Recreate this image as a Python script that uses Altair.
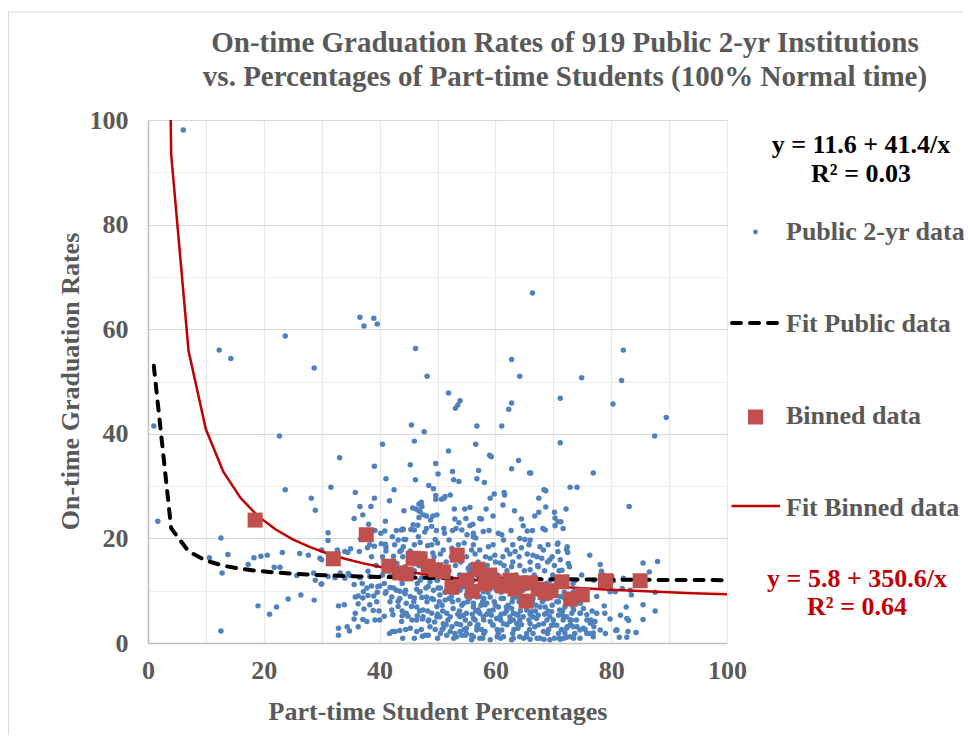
import altair as alt
import pandas as pd

# ---------------- data ----------------
title_lines = ["On-time Graduation Rates of 919 Public 2-yr Institutions",
               "vs. Percentages of Part-time Students (100% Normal time)"]
x_title = "Part-time Student Percentages"
y_title = "On-time Graduation Rates"
legend_labels = ["Public 2-yr data", "Fit Public data", "Binned data", "Fit Binned data"]
eq_public = ["y = 11.6 + 41.4/x", "R² = 0.03"]
eq_binned = ["y = 5.8 + 350.6/x", "R² = 0.64"]

# fit coefficients (as printed on the chart)
pub_a, pub_b = 11.6, 41.4
bin_a, bin_b = 5.8, 350.6
fit_x = [1, 4, 7, 10, 13, 16, 19, 22, 25, 28, 31, 34, 37, 40, 43, 46, 49, 52, 55,
         58, 61, 64, 67, 70, 73, 76, 79, 82, 85, 88, 91, 94, 97, 100]

# binned data (red squares)
bin_x = [18.5, 32.0, 37.7, 41.6, 44.6, 47.0, 48.4, 49.7, 51.0, 52.5, 53.4, 55.0, 56.0,
         57.0, 58.2, 59.0, 59.8, 61.3, 62.5, 63.4, 64.4, 65.3, 66.1, 67.4, 68.6, 69.6,
         71.5, 73.0, 75.0, 79.0, 85.0, 45.8, 43.5]
bin_y = [23.5, 16.1, 20.7, 14.7, 13.2, 16.1, 14.7, 14.0, 13.6, 10.7, 16.8, 12.0, 9.9,
         14.1, 11.3, 13.0, 11.7, 10.9, 12.0, 10.3, 11.5, 8.0, 11.5, 10.3, 9.6, 10.0,
         11.7, 8.4, 9.2, 11.9, 11.9, 16.2, 13.4]

# institutions (blue dots), read region by region
sparse_pts = [
    (6.1, 98.1), (66.4, 66.9), (36.6, 62.3), (37.3, 60.6), (39.0, 62.1), (39.6, 61.0),
    (23.7, 58.7), (12.3, 56.0), (14.3, 54.4), (28.7, 52.6), (46.2, 56.3), (48.2, 51.0),
    (62.8, 54.2), (64.2, 51.0), (82.1, 56.0), (81.8, 50.2), (74.9, 50.7), (51.9, 47.8),
    (53.9, 46.3), (53.5, 45.5), (53.1, 44.9), (62.8, 45.9), (62.3, 44.7), (71.2, 46.8),
    (80.3, 45.7), (89.5, 43.1), (87.5, 39.6), (1.0, 41.5), (22.7, 39.6), (45.5, 41.7),
    (47.7, 40.4), (46.0, 38.6), (40.5, 38.0), (56.8, 41.5), (61.1, 41.5), (56.6, 38.0),
    (71.2, 38.3), (51.9, 36.7), (33.1, 35.4), (39.1, 33.8), (45.3, 34.1), (49.7, 34.3),
    (50.1, 32.3), (59.0, 35.9), (59.3, 35.6), (64.0, 34.9), (62.8, 33.3), (52.6, 32.8),
    (57.1, 33.0), (65.9, 32.5), (66.1, 32.5), (76.9, 32.5), (46.2, 31.2), (41.1, 31.4),
    (56.8, 31.4), (58.1, 30.7), (52.8, 31.2), (53.7, 30.9), (42.5, 29.3), (31.6, 29.8),
    (23.7, 29.3), (72.9, 29.8), (74.1, 29.8), (68.4, 29.3), (68.7, 29.1), (49.3, 29.5),
    (48.5, 30.1), (49.7, 28.2), (28.2, 27.7), (28.9, 25.4), (35.8, 28.8), (39.1, 27.7),
    (41.7, 27.2), (83.1, 26.1), (1.7, 23.3), (12.6, 20.1), (13.8, 16.9), (10.6, 16.3),
    (12.8, 13.4), (19.0, 7.1), (12.6, 2.3), (21.0, 5.5), (22.2, 6.9), (24.2, 8.4),
    (26.4, 9.2), (28.7, 8.2), (17.3, 15.0), (18.3, 16.3), (19.5, 16.6), (20.6, 16.8),
    (23.2, 17.3), (26.2, 17.1), (27.7, 16.8), (21.8, 14.5), (22.8, 14.5), (25.7, 12.9),
    (28.6, 13.4), (28.9, 12.0), (29.9, 11.3),
]
right_pts = [
    (88.0, 15.6), (85.5, 15.3), (87.6, 9.7), (86.6, 13.6), (85.5, 4.5), (87.6, 6.1),
    (84.3, 2.0), (82.7, 1.1), (81.4, 1.1), (83.0, 4.3), (80.8, 2.4), (82.6, 6.9),
    (80.0, 10.1), (78.8, 7.1), (78.9, 5.7), (79.8, 4.6), (80.1, 12.8), (80.4, 11.9),
    (78.1, 15.0), (78.3, 13.7), (76.3, 16.8), (72.3, 17.9), (72.5, 17.3), (70.7, 18.9),
    (75.2, 6.6), (75.8, 5.4), (77.2, 4.1), (78.1, 2.5), (76.9, 1.9), (74.6, 2.5),
    (73.5, 3.1), (72.0, 1.9), (72.3, 1.1), (71.2, 0.7), (78.6, 13.0), (77.5, 5.7),
    (80.9, 2.5), (83.5, 9.2), (85.5, 7.3), (82.9, 2.2), (72.4, 18.4), (72.6, 15.2),
    (72.8, 14.6), (71.2, 15.9), (71.5, 13.9), (74.9, 13.0), (73.8, 12.0), (73.5, 9.8),
    (77.0, 12.0), (77.5, 8.9), (75.2, 2.8), (72.9, 1.2), (71.8, 0.9), (81.0, 2.5),
    (82.7, 4.7), (81.6, 5.3), (80.7, 9.8), (79.8, 9.8), (81.9, 10.4), (83.3, 10.1),
    (82.1, 12.4), (71.2, 8.9), (72.4, 8.2), (73.5, 6.3), (71.8, 5.0), (72.9, 4.4),
    (74.7, 5.7), (76.4, 3.8), (74.1, 3.1), (72.4, 3.1), (74.7, 7.6), (75.5, 8.5),
    (77.0, 3.1), (79.0, 1.8), (75.8, 1.8), (73.5, 0.9),
]
mid_pts = [
    (36.6, 26.1), (38.5, 26.1), (35.6, 23.8), (37.1, 24.5), (38.1, 22.7), (41.0, 23.3),
    (44.2, 25.3), (46.3, 25.6), (46.8, 25.3), (48.1, 24.3), (49.2, 24.3), (31.1, 21.1),
    (31.1, 19.6), (30.0, 17.8), (29.7, 16.2), (32.7, 17.8), (34.0, 17.5), (35.0, 18.0),
    (36.5, 17.5), (37.9, 18.2), (39.1, 18.5), (40.3, 19.0), (40.9, 21.4), (42.2, 20.3),
    (44.1, 21.7), (44.5, 19.8), (45.4, 21.7), (46.6, 22.5), (47.8, 21.2), (49.0, 22.3),
    (41.0, 18.9), (41.1, 17.6), (42.4, 16.6), (44.1, 18.4), (45.3, 17.6), (47.0, 19.2),
    (48.3, 18.6), (49.6, 19.8), (43.0, 15.2), (44.4, 14.6), (45.8, 15.4), (47.3, 14.7),
    (49.3, 14.4), (45.7, 25.8), (46.8, 26.6), (47.6, 24.5), (48.8, 23.5), (49.9, 24.5),
    (67.5, 27.7), (66.8, 24.3), (67.5, 25.0), (61.5, 28.8), (61.6, 28.3), (59.8, 28.5),
    (59.1, 27.7), (61.3, 26.4), (63.3, 25.3), (49.7, 27.5), (50.7, 27.5), (51.1, 27.7),
    (52.2, 28.3), (47.2, 26.9), (47.3, 26.1), (46.8, 24.0), (44.0, 21.8), (44.2, 19.8),
    (43.8, 17.8), (57.6, 23.7), (58.4, 25.6), (59.6, 24.3), (54.7, 25.6), (55.6, 25.9),
    (52.9, 25.6), (51.1, 21.9), (51.2, 21.0), (53.0, 23.7), (53.7, 23.0), (56.1, 22.7),
    (56.6, 20.1), (64.5, 23.7), (64.8, 22.4), (65.5, 21.4), (68.2, 21.9), (68.6, 21.6),
    (70.2, 25.0), (70.3, 23.9), (70.8, 23.2), (71.3, 23.2), (71.7, 21.9), (72.2, 25.6),
    (47.0, 25.1), (51.3, 28.0), (54.9, 23.8), (57.3, 23.8), (43.8, 21.6), (45.8, 22.6),
    (46.0, 21.6), (48.1, 21.9), (53.2, 21.9), (54.2, 21.6), (55.1, 20.7), (56.2, 20.3),
    (36.7, 19.9), (40.2, 21.0), (43.2, 19.7), (46.7, 20.3), (41.1, 18.3), (50.0, 19.1),
    (52.0, 19.7), (54.6, 19.1), (34.5, 17.3), (43.5, 17.5), (45.3, 15.9), (49.2, 17.2),
    (51.0, 17.8), (52.5, 18.1), (68.7, 26.0), (70.3, 22.4), (55.6, 22.4), (56.2, 21.0),
    (57.9, 21.3), (60.5, 21.0), (61.1, 20.7), (61.4, 19.7), (64.2, 20.0), (65.1, 19.8),
    (66.0, 19.7), (67.7, 18.4), (68.3, 17.8), (70.8, 19.1), (55.9, 17.8), (57.3, 17.8),
    (58.8, 18.4), (59.9, 16.8), (62.0, 17.8), (63.4, 17.5), (64.5, 18.2), (66.5, 16.8),
    (68.0, 16.2), (69.4, 15.9), (70.8, 17.5), (67.4, 14.6), (66.0, 14.0), (62.8, 14.6),
    (60.8, 15.3), (59.1, 16.2),
]
core_pts = [
    (32.9, 7.1), (33.9, 7.3), (32.9, 2.8), (32.9, 1.5), (34.4, 3.1), (34.8, 2.3),
    (36.3, 3.1), (35.6, 4.6), (37.1, 4.5), (37.8, 4.1), (35.6, 11.2), (37.0, 11.4),
    (38.6, 10.9), (39.7, 10.8), (35.8, 8.8), (37.1, 8.6), (38.0, 9.1), (39.0, 9.0),
    (36.3, 7.5), (37.3, 6.5), (38.9, 6.2), (40.0, 10.9), (41.8, 10.6), (42.9, 10.1),
    (43.5, 9.9), (44.5, 10.1), (41.0, 9.5), (42.1, 8.8), (43.2, 8.0), (44.6, 7.6),
    (46.0, 8.6), (40.8, 5.1), (42.3, 5.4), (43.9, 5.2), (44.9, 5.1), (46.5, 5.2),
    (47.4, 4.6), (48.4, 4.2), (49.5, 4.0), (41.7, 1.8), (42.2, 2.2), (43.5, 2.4),
    (47.4, 1.3), (47.9, 1.5), (32.3, 12.5), (34.0, 12.4), (34.9, 12.9), (36.6, 12.5),
    (45.8, 13.1), (47.3, 12.5), (48.7, 11.7), (49.9, 12.0), (68.4, 0.7), (65.4, 1.2),
    (63.1, 0.9), (60.3, 1.2), (54.2, 1.5), (52.2, 2.2), (51.0, 2.8), (30.0, 15.9),
    (31.1, 12.7), (33.2, 13.4), (34.6, 13.3), (38.0, 13.7), (38.3, 12.7), (41.8, 12.7),
    (43.0, 12.6), (49.7, 12.7), (51.6, 12.7), (55.3, 14.3), (30.0, 11.3), (37.8, 10.5),
    (37.2, 9.8), (36.3, 9.0), (41.1, 9.8), (42.4, 10.5), (43.5, 8.5), (44.4, 9.4),
    (45.3, 8.9), (46.4, 10.3), (47.3, 8.7), (48.4, 10.8), (49.3, 8.3), (50.1, 10.5),
    (51.3, 8.2), (52.4, 8.9), (53.6, 8.2), (54.5, 7.6), (56.2, 7.6), (57.3, 8.9),
    (35.8, 5.7), (38.3, 7.3), (39.2, 4.4), (41.8, 7.9), (42.1, 6.3), (43.2, 7.0),
    (43.8, 4.1), (44.6, 5.7), (45.5, 7.0), (46.4, 4.4), (47.5, 6.3), (49.0, 5.7),
    (49.9, 7.0), (50.4, 5.0), (51.6, 5.7), (52.7, 6.6), (53.9, 5.0), (55.0, 5.7),
    (56.2, 4.7), (57.1, 6.0), (42.7, 2.2), (45.3, 2.8), (46.4, 2.2), (48.4, 1.5),
    (51.6, 1.5), (52.5, 3.1), (53.9, 2.2), (55.0, 2.8), (55.9, 1.5), (46.4, 6.9),
    (47.5, 5.0), (48.7, 3.1), (49.9, 5.0), (51.0, 3.7), (52.2, 5.0), (53.3, 3.7),
    (54.5, 5.3), (55.6, 3.7), (56.8, 2.5), (47.0, 9.8), (48.1, 8.8), (49.3, 10.1),
    (50.4, 9.2), (51.6, 10.1), (52.7, 9.8), (53.9, 10.1), (55.0, 9.2), (56.2, 9.8),
    (53.3, 11.4), (54.5, 10.8), (55.6, 11.7), (54.8, 1.5), (53.3, 1.2), (56.2, 1.2),
    (56.2, 6.9), (57.3, 5.7), (58.5, 7.6), (59.6, 6.3), (60.8, 5.0), (61.9, 6.9),
    (63.1, 5.7), (64.2, 4.4), (65.4, 6.3), (66.5, 5.0), (67.7, 6.9), (68.8, 5.7),
    (70.0, 4.4), (71.1, 6.3), (72.3, 5.0), (73.4, 6.9), (74.6, 5.7), (75.8, 4.4),
    (56.8, 3.1), (58.2, 2.2), (59.6, 3.4), (61.1, 2.5), (62.5, 4.1), (63.9, 2.8),
    (65.4, 1.8), (66.8, 3.1), (68.3, 2.2), (69.7, 3.4), (70.9, 1.8), (72.3, 2.8),
    (73.7, 1.8), (76.3, 1.8), (55.9, 0.6), (57.3, 0.9), (59.1, 0.6), (61.4, 1.2),
    (62.8, 0.6), (64.2, 1.2), (66.0, 0.7), (67.7, 0.9), (69.4, 0.6), (71.1, 0.9),
    (74.6, 0.9), (76.9, 1.2), (56.8, 8.8), (57.9, 9.8), (59.1, 8.8), (60.2, 10.1),
    (61.4, 8.5), (62.5, 9.8), (63.7, 8.8), (64.8, 10.1), (66.0, 8.2), (67.1, 9.5),
    (68.3, 8.2), (69.4, 9.2), (70.6, 7.9), (71.7, 8.8), (72.9, 7.6), (74.0, 8.5),
    (56.5, 4.4), (57.9, 5.0), (59.1, 4.1), (60.2, 4.7), (61.4, 3.7), (62.5, 5.0),
    (63.7, 3.7), (64.8, 5.0), (66.0, 3.7), (67.1, 4.7), (68.3, 3.7), (69.4, 5.0),
    (70.6, 3.4), (71.7, 4.4), (72.9, 3.4), (74.0, 4.4), (57.0, 6.3), (58.2, 7.3),
    (59.3, 5.3), (60.5, 6.9), (61.6, 5.7), (62.8, 6.6), (63.9, 5.3), (65.1, 7.3),
    (66.2, 6.0), (67.4, 5.3), (68.6, 6.9), (69.7, 6.0), (70.9, 5.3), (72.0, 6.9),
    (73.2, 5.7), (56.2, 12.0), (57.6, 11.4), (58.8, 12.4), (59.9, 11.4), (61.1, 12.0),
    (70.6, 11.4), (72.0, 10.8), (73.4, 11.4),
    (50.5, 1.8), (53.0, 1.8), (55.0, 1.8), (58.0, 1.8), (60.5, 1.8), (63.0, 1.8),
    (66.5, 1.8), (69.0, 1.8), (51.5, 3.5), (54.0, 3.5), (57.0, 3.5), (59.5, 3.5),
    (62.0, 3.5), (64.5, 3.5), (67.5, 3.5), (70.0, 3.5), (73.0, 3.5), (50.0, 5.5),
    (53.5, 5.5), (56.0, 5.5), (58.5, 5.5), (61.0, 5.5), (63.5, 5.5), (66.0, 5.5),
    (68.5, 5.5), (71.5, 5.5), (50.8, 7.2), (54.2, 7.2), (57.5, 7.2), (60.0, 7.2),
    (62.2, 7.2), (65.0, 7.2), (67.0, 7.2), (69.8, 7.2), (49.0, 8.5), (52.0, 8.5),
    (55.5, 8.5), (58.0, 8.5), (61.0, 8.5), (63.0, 8.5), (66.5, 8.5), (69.0, 8.5),
    (72.0, 8.5), (48.0, 10.5), (50.5, 10.5), (54.0, 10.5), (57.0, 10.5), (60.0, 10.5),
    (62.5, 10.5), (65.5, 10.5), (68.0, 10.5), (70.5, 10.5), (47.0, 12.0), (50.0, 12.0),
    (53.0, 12.0), (57.5, 12.0), (61.5, 12.0), (64.0, 12.0), (67.0, 12.0), (69.5, 12.0),
    (46.0, 13.8), (49.0, 13.8), (52.0, 13.8), (55.5, 13.8), (59.0, 13.8), (62.0, 13.8),
    (65.0, 13.8), (68.5, 13.8), (71.0, 13.8), (45.0, 15.5), (48.5, 15.5), (51.5, 15.5),
    (54.0, 15.5), (57.0, 15.5), (60.0, 15.5), (63.0, 15.5), (66.0, 15.5), (69.0, 15.5),
    (47.5, 17.0), (50.5, 17.0), (53.5, 17.0), (56.5, 17.0), (62.5, 17.0), (65.5, 17.0),
]
dense_pts = [
    (44.0, 0.9), (46.0, 0.9), (50.0, 0.9), (52.8, 0.9), (57.8, 0.9), (60.9, 0.9),
    (64.9, 0.9), (67.2, 0.9), (70.2, 0.9),
    (44.5, 2.6), (47.2, 2.6), (49.6, 2.6), (50.8, 2.6), (54.6, 2.6), (57.6, 2.6),
    (60.3, 2.6), (63.2, 2.6), (65.9, 2.6), (69.2, 2.6), (71.4, 2.6), (75.5, 2.6),
    (40.0, 4.4), (45.6, 4.4), (48.5, 4.4), (51.8, 4.4), (54.8, 4.4), (58.0, 4.4),
    (60.9, 4.4), (63.1, 4.4), (65.8, 4.4), (68.9, 4.4), (73.1, 4.4), (76.5, 4.4),
    (39.9, 6.1), (43.9, 6.1), (46.9, 6.1), (48.3, 6.1), (50.9, 6.1), (53.8, 6.1),
    (56.6, 6.1), (58.9, 6.1), (61.9, 6.1), (64.3, 6.1), (66.9, 6.1), (69.1, 6.1),
    (71.6, 6.1), (76.7, 6.1),
    (39.5, 7.9), (45.9, 7.9), (48.2, 7.9), (50.3, 7.9), (52.6, 7.9), (55.2, 7.9),
    (57.8, 7.9), (59.8, 7.9), (62.9, 7.9), (64.1, 7.9), (66.4, 7.9), (68.1, 7.9),
    (70.9, 7.9), (73.9, 7.9),
    (39.6, 9.7), (44.3, 9.7), (46.9, 9.7), (51.3, 9.7), (53.2, 9.7), (55.9, 9.7),
    (58.7, 9.7), (61.0, 9.7), (63.9, 9.7), (66.8, 9.7), (68.9, 9.7), (71.9, 9.7),
    (40.8, 11.4), (43.9, 11.4), (46.5, 11.4), (52.3, 11.4), (54.8, 11.4), (58.4, 11.4),
    (60.6, 11.4), (63.2, 11.4), (65.9, 11.4), (68.9, 11.4), (71.7, 11.4),
    (40.5, 13.0), (42.5, 13.0), (50.6, 13.0), (53.8, 13.0), (56.7, 13.0), (58.1, 13.0),
    (60.4, 13.0), (63.6, 13.0), (66.7, 13.0), (69.9, 13.0),
    (39.4, 14.8), (41.7, 14.8), (46.8, 14.8), (50.4, 14.8), (53.1, 14.8), (55.7, 14.8),
    (58.6, 14.8), (61.5, 14.8), (64.2, 14.8), (67.3, 14.8), (70.2, 14.8),
    (38.6, 16.5), (40.5, 16.5), (44.0, 16.5), (46.6, 16.5), (49.4, 16.5), (52.4, 16.5),
    (55.0, 16.5), (58.3, 16.5), (61.3, 16.5), (64.1, 16.5), (67.2, 16.5), (69.8, 16.5),
    (38.3, 18.8), (42.6, 18.8), (46.0, 18.8), (49.0, 18.8), (53.6, 18.8), (56.2, 18.8),
    (59.6, 18.8), (63.0, 18.8), (65.8, 18.8), (69.1, 18.8),
    (39.2, 21.5), (42.9, 21.5), (49.8, 21.5), (52.6, 21.5), (58.9, 21.5), (62.7, 21.5),
    (66.4, 21.5),
]

# ---------------- frames ----------------
pub_df = pd.DataFrame(sparse_pts + right_pts + mid_pts + core_pts + dense_pts,
                      columns=["x", "y"])
bin_df = pd.DataFrame({"x": bin_x, "y": bin_y})
fit_df = pd.DataFrame({"x": fit_x})

# ---------------- styles ----------------
FONT = "Liberation Serif"
GRAY = "#595959"
BLUE = "#4F81BD"
SQUARE = "#C0504D"
RED = "#C00000"
FS = 26

xs = alt.Scale(domain=[0, 100], nice=False)
ys = alt.Scale(domain=[0, 100], nice=False)
label_expr = "datum.value % 20 == 0 ? datum.label : ''"

x_axis = alt.Axis(
    values=list(range(0, 101, 10)), labelExpr=label_expr, title=x_title,
    ticks=False, domainColor="#bfbfbf", domainWidth=1.5,
    gridColor="#e8e8e8", gridWidth=1.2,
    labelFont=FONT, labelFontSize=FS, labelFontWeight="bold", labelColor=GRAY,
    labelPadding=14, labelFlush=False,
    titleFont=FONT, titleFontSize=FS, titleFontWeight="bold", titleColor=GRAY,
    titleBaseline="alphabetic", titleY=76,
)
y_axis = alt.Axis(
    values=list(range(0, 101, 10)), labelExpr=label_expr, title=y_title,
    ticks=False, domainColor="#bfbfbf", domainWidth=1.5,
    gridColor={"condition": {"test": "datum.value % 20 == 0", "value": "#d9d9d9"},
               "value": "#eeeeee"},
    gridWidth=1.2,
    labelFont=FONT, labelFontSize=FS, labelFontWeight="bold", labelColor=GRAY,
    labelPadding=20, labelFlush=False,
    titleFont=FONT, titleFontSize=FS, titleFontWeight="bold", titleColor=GRAY,
    titleBaseline="alphabetic", titleX=-70, titleY=261, titleAngle=-90,
)
X = alt.X("x:Q", scale=xs, axis=x_axis)
Y = alt.Y("y:Q", scale=ys, axis=y_axis)

one = pd.DataFrame({"k": [0]})

# outer chart border (left and top edges visible in the picture)
border_left = alt.Chart(one).mark_rule(color="#d9d9d9", strokeWidth=1).encode(
    x=alt.value(-139.5), y=alt.value(-108), y2=alt.value(640))
border_top = alt.Chart(one).mark_rule(color="#d9d9d9", strokeWidth=1).encode(
    x=alt.value(-139.5), x2=alt.value(820), y=alt.value(-108))

# chart title (two lines)
title_df = pd.DataFrame({"t": title_lines})
title_layers = [
    alt.Chart(title_df.iloc[[i]]).mark_text(
        font=FONT, fontSize=29, fontWeight="bold", color=GRAY,
        align="center", baseline="alphabetic"
    ).encode(text="t:N", x=alt.value(417), y=alt.value(yy))
    for i, yy in enumerate([-68, -34])
]

scatter = alt.Chart(pub_df).mark_circle(size=30, color=BLUE, opacity=1).encode(x=X, y=Y)

red_fit = alt.Chart(fit_df).transform_calculate(
    y=f"{bin_a} + {bin_b} / datum.x"
).mark_line(color=RED, strokeWidth=2.5, clip=True).encode(x=X, y=Y)

black_fit = alt.Chart(fit_df).transform_calculate(
    y=f"{pub_a} + {pub_b} / datum.x"
).mark_line(color="black", strokeWidth=4, strokeDash=[9, 9], strokeCap="round",
            clip=True).encode(x=X, y=Y)

binned = alt.Chart(bin_df).mark_square(size=225, color=SQUARE, opacity=1).encode(x=X, y=Y)

# legend (drawn to the right of the plot as in the original)
leg_df = pd.DataFrame({"label": legend_labels})
leg_text_layers = []
for i, yy in enumerate([112, 204, 296, 388]):
    leg_text_layers.append(
        alt.Chart(leg_df.iloc[[i]]).mark_text(
            font=FONT, fontSize=FS, fontWeight="bold", color=GRAY,
            align="left", baseline="middle"
        ).encode(text="label:N", x=alt.value(638), y=alt.value(yy))
    )
leg_dot = alt.Chart(one).mark_circle(size=24, color=BLUE, opacity=1).encode(
    x=alt.value(607.5), y=alt.value(112))
leg_dash = alt.Chart(one).mark_rule(color="black", strokeWidth=4, strokeDash=[9, 9],
                                    strokeCap="round").encode(
    x=alt.value(584), x2=alt.value(629), y=alt.value(203))
leg_square = alt.Chart(one).mark_square(size=225, color=SQUARE, opacity=1).encode(
    x=alt.value(607.5), y=alt.value(297))
leg_line = alt.Chart(one).mark_rule(color=RED, strokeWidth=2.5).encode(
    x=alt.value(583.5), x2=alt.value(632), y=alt.value(386))

# equation annotations
eq_df1 = pd.DataFrame({"t": eq_public})
eq_df2 = pd.DataFrame({"t": eq_binned})
eq_layers = []
for i, yy in enumerate([25, 54]):
    eq_layers.append(alt.Chart(eq_df1.iloc[[i]]).mark_text(
        font=FONT, fontSize=FS, fontWeight="bold", color="black",
        align="center", baseline="middle").encode(
        text="t:N", x=alt.value(713), y=alt.value(yy)))
for i, yy in enumerate([459, 487]):
    eq_layers.append(alt.Chart(eq_df2.iloc[[i]]).mark_text(
        font=FONT, fontSize=FS, fontWeight="bold", color=RED,
        align="center", baseline="middle").encode(
        text="t:N", x=alt.value(709), y=alt.value(yy)))

chart = alt.layer(
    border_left, border_top, *title_layers, scatter, red_fit, black_fit, binned,
    leg_dot, leg_dash, leg_square, leg_line, *leg_text_layers, *eq_layers
).properties(
    width=579, height=523,
    autosize=alt.AutoSizeParams(type="none"),
    padding={"left": 140, "top": 112, "right": 237, "bottom": 92},
).configure_view(stroke=None)

chart.save("out.html", embed_options={"renderer": "svg", "actions": False})
